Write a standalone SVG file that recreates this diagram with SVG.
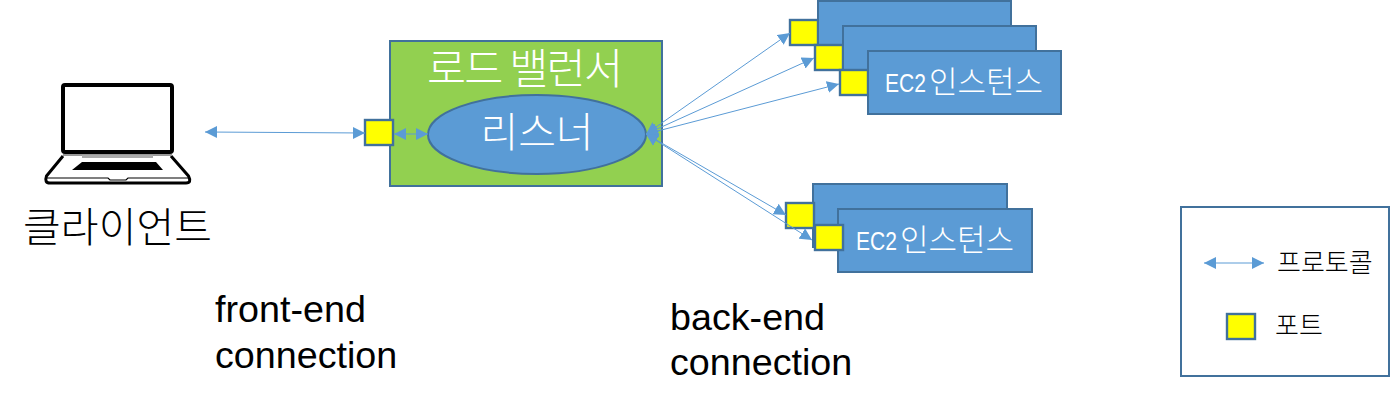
<svg xmlns="http://www.w3.org/2000/svg" width="1395" height="407" viewBox="0 0 1395 407">
<style>
.box{fill:#5b9bd5;stroke:#41719c;stroke-width:2}
.port{fill:#ffff00;stroke:#41719c;stroke-width:2.4}
.conn{fill:none;stroke:#5b9bd5;stroke-width:1;marker-start:url(#head);marker-end:url(#head)}
.kr{font-family:"Noto Sans CJK KR","Noto Sans",sans-serif;font-weight:300}
.en{font-family:"Liberation Sans",Arial,sans-serif;font-size:37.7px;fill:#000}
.ec{font-family:"Liberation Sans",Arial,sans-serif;font-size:25px;fill:#fff}
.w{fill:#fff}
.k{fill:#000}
.lap{fill:none;stroke:#000;stroke-linejoin:round}
</style>
<defs>
<marker id="head" markerUnits="userSpaceOnUse" markerWidth="12" markerHeight="13" refX="12" refY="6.5" orient="auto-start-reverse"><path d="M0,0.5 L12,6.5 L0,12.500 Z" fill="#5b9bd5"/></marker>
</defs>
<rect width="1395" height="407" fill="#fff"/>
<g id="client">
<rect class="lap" x="63" y="85" width="109" height="67" rx="2" stroke-width="4"/>
<path class="lap" d="M63,156 L46.500,176 Q44,183 50,183 L186,183 Q192,183 188.500,176 L171,156" stroke-width="3"/>
<path d="M63,155 H172" stroke="#999" stroke-width="2"/>
<path d="M82,156.500 H153" stroke="#aaa" stroke-width="3"/>
<path d="M82,162 H156 L163,170 H72 Z" fill="#000"/>
<path d="M47,178 H108 L110,180 H126 L128,178 H188" fill="none" stroke="#000" stroke-width="1.200"/>
<text class="kr k" x="23" y="242" font-size="41" textLength="189">클라이언트</text>
</g>
<g id="frontend-label">
<text class="en" x="215" y="322">front-end</text>
<text class="en" x="215" y="368">connection</text>
</g>
<g id="load-balancer">
<rect x="390" y="41" width="272" height="145" fill="#92d050" stroke="#41719c" stroke-width="2"/>
<text class="kr w" x="427" y="84" font-size="42.500" textLength="196">로드 밸런서</text>
</g>
<g id="listener">
<ellipse class="box" cx="537" cy="134.500" rx="109" ry="39.500"/>
<text class="kr w" x="537" y="147" font-size="41" text-anchor="middle">리스너</text>
</g>
<g id="lb-port"><rect class="port" x="365" y="120" width="28" height="25"/></g>
<g id="ec2-group-1">
<rect class="port" x="790" y="20" width="28" height="25"/>
<rect class="box" x="818" y="1" width="193" height="63"/>
<rect class="port" x="815" y="45" width="28" height="25"/>
<rect class="box" x="843" y="26" width="193" height="63"/>
<rect class="port" x="840" y="70" width="28" height="25"/>
<rect class="box" x="868" y="51" width="193" height="63"/>
<text class="ec" x="885" y="92" textLength="41" lengthAdjust="spacingAndGlyphs">EC2</text>
<text class="kr w" x="929" y="93" font-size="31">인스턴스</text>
</g>
<g id="ec2-group-2">
<rect class="box" x="813" y="184" width="194" height="63"/>
<rect class="port" x="786" y="203" width="28" height="25"/>
<rect class="box" x="838" y="209" width="194" height="63"/>
<rect class="port" x="815" y="225" width="28" height="25"/>
<text class="ec" x="856" y="250" textLength="41" lengthAdjust="spacingAndGlyphs">EC2</text>
<text class="kr w" x="900" y="251" font-size="31">인스턴스</text>
</g>
<g id="connectors">
<line class="conn" x1="205" y1="132" x2="365" y2="133"/>
<line class="conn" x1="394" y1="134" x2="428" y2="134"/>
<line class="conn" x1="646" y1="134" x2="790" y2="33"/>
<line class="conn" x1="646" y1="134" x2="814" y2="58"/>
<line class="conn" x1="646" y1="134" x2="839" y2="84"/>
<line class="conn" x1="646" y1="134" x2="786" y2="215"/>
<line class="conn" x1="646" y1="134" x2="812" y2="240"/>
</g>
<g id="legend">
<rect x="1181" y="207" width="208" height="169" fill="#fff" stroke="#41719c" stroke-width="2"/>
<line class="conn" x1="1204" y1="263" x2="1264" y2="263"/>
<text class="kr k" x="1277" y="272" font-size="26" font-weight="400">프로토콜</text>
<rect class="port" x="1227" y="314" width="28" height="25"/>
<text class="kr k" x="1275" y="335" font-size="26" font-weight="400">포트</text>
</g>
<g id="backend-label">
<text class="en" x="670" y="330">back-end</text>
<text class="en" x="670" y="375">connection</text>
</g>
</svg>
